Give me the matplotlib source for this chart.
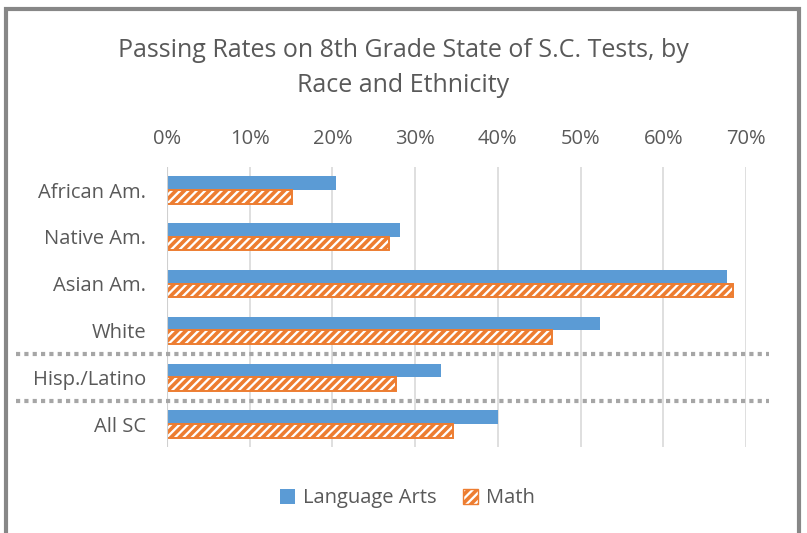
import matplotlib.pyplot as plt
import numpy as np
from matplotlib.patches import Rectangle, Patch
from matplotlib.ticker import PercentFormatter

categories = ['African Am.', 'Native Am.', 'Asian Am.', 'White', 'Hisp./Latino', 'All SC']
lang_arts = [20.4, 28.2, 67.7, 52.4, 33.1, 40.0]
math = [15.1, 26.8, 68.4, 46.6, 27.7, 34.6]
xticks = [0, 10, 20, 30, 40, 50, 60, 70]

plt.rcParams['font.family'] = ['Open Sans', 'DejaVu Sans']
plt.rcParams['hatch.linewidth'] = 2.6
txt = '#595959'
blue = '#5B9BD5'
orange = '#ED7D31'

fig = plt.figure(figsize=(8.07, 5.33), dpi=100)
ax = fig.add_axes([0.2069, 0.1606, 0.7175, 0.5268])

y = np.arange(len(categories))
h = 0.29
ax.barh(y - h / 2, lang_arts, height=h, color=blue, label='Language Arts', zorder=3)
ax.barh(y + h / 2, math, height=h, facecolor='white', edgecolor=orange, hatch='////',
        linewidth=1.4, label='Math', zorder=3)

ax.set_xlim(0, 70)
ax.set_ylim(len(categories) - 0.5, -0.5)
ax.set_xticks(xticks)
ax.xaxis.set_major_formatter(PercentFormatter(decimals=0))
ax.xaxis.tick_top()
ax.set_yticks(y)
ax.set_yticklabels(categories)
ax.tick_params(length=0, colors=txt, labelsize=14.5)
ax.tick_params(axis='x', pad=13)
ax.tick_params(axis='y', pad=15)
for s in ax.spines.values():
    s.set_visible(False)
ax.grid(axis='x', color='#D9D9D9', linewidth=1.2, zorder=0)
ax.axvline(0, color='#D0D0D0', linewidth=1.5, zorder=4)

# dotted separators
for yy in [3.5, 4.5]:
    ax.plot([-18.2, 72.8], [yy, yy], color='#A6A6A6', linewidth=3, linestyle=(0, (1, 1)),
            clip_on=False, zorder=5)

fig.text(0.5, 0.905, 'Passing Rates on 8th Grade State of S.C. Tests, by', ha='center',
         va='center', fontsize=18, color=txt)
fig.text(0.5, 0.84, 'Race and Ethnicity', ha='center', va='center', fontsize=18, color=txt)

handles = [Patch(facecolor=blue, label='Language Arts'),
           Patch(facecolor='white', edgecolor=orange, hatch='////', label='Math')]
fig.legend(handles=handles, loc='center', bbox_to_anchor=(0.505, 0.065), ncol=2, frameon=False,
           fontsize=14.5, labelcolor=txt, handlelength=0.75, handleheight=0.75,
           handletextpad=0.4, columnspacing=1.3)

fig.patches.append(Rectangle((0.008, -0.1), 0.982, 1.083, transform=fig.transFigure,
                             fill=False, edgecolor='#878787', linewidth=3))

fig.savefig('out.png', dpi=100)
